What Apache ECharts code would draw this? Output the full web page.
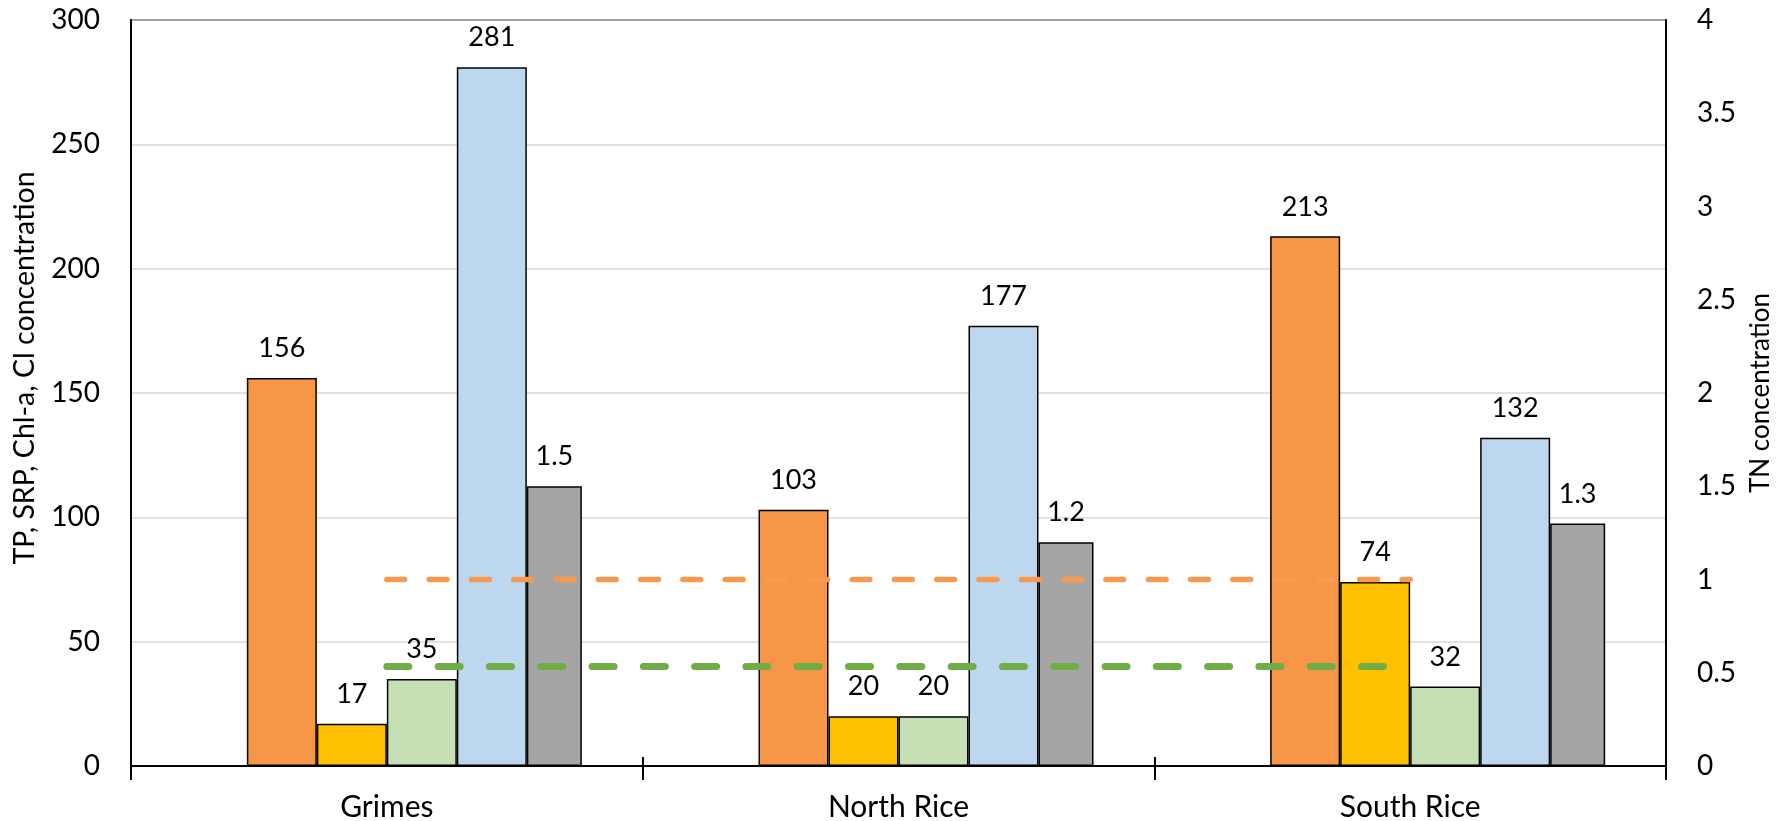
<!DOCTYPE html>
<html>
<head>
<meta charset="utf-8">
<title>Water quality by site</title>
<script src="https://cdn.jsdelivr.net/npm/echarts@6/dist/echarts.min.js"></script>
<style>
  html, body { margin: 0; padding: 0; background: #fff; }
  #chart { width: 1777px; height: 821px; }
</style>
</head>
<body>
<div id="chart"></div>
<script>
// Sites
const categories = ['Grimes', 'North Rice', 'South Rice'];

// Concentrations on the left axis
const tpValues   = [156, 103, 213];
const srpValues  = [17, 20, 74];
const chlaValues = [35, 20, 32];
const clValues   = [281, 177, 132];

// TN on the right axis
const tnValues = [1.5, 1.2, 1.3];

// Reference levels drawn as dashed lines
const tnReference   = [1.0, 1.0, 1.0];   // right axis
const leftReference = [40, 40, 40];      // left axis

// Axis ranges
const leftMax = 300, leftStep = 50;
const rightMax = 4, rightStep = 0.5;

const FONT = 'Lato, "Open Sans", sans-serif';
const BAR_W = '13.68%';
const TN_W = '10.75%';

const labelStyle = {
  show: true,
  position: 'top',
  distance: 16,
  color: '#000',
  fontFamily: FONT,
  fontSize: 27
};

function barSeries(name, data, color, width, yAxisIndex) {
  return {
    name: name,
    type: 'bar',
    xAxisIndex: 0,
    yAxisIndex: yAxisIndex,
    data: data,
    barWidth: width,
    barGap: '0%',
    itemStyle: { color: color, borderColor: '#000', borderWidth: 1.5 },
    label: labelStyle,
    z: 2
  };
}

const chart = echarts.init(document.getElementById('chart'), null, { renderer: 'canvas' });

chart.setOption({
  animation: false,
  backgroundColor: '#fff',
  grid: {
    left: 131, right: 111, top: 20, bottom: 55,
    outerBoundsMode: 'none',
    containLabel: false,
    show: true, borderColor: '#000', borderWidth: 2
  },
  xAxis: [
    {
      type: 'category',
      data: categories,
      position: 'bottom',
      axisLine: { show: true, lineStyle: { color: '#000', width: 2 } },
      axisTick: { show: true, inside: false, length: 14, lineStyle: { color: '#000', width: 2 } },
      axisLabel: { color: '#000', fontFamily: FONT, fontSize: 30, margin: 26 },
      splitLine: { show: false }
    },
    {
      // upper half of the crossing category ticks
      type: 'category',
      data: categories,
      position: 'bottom',
      axisLine: { show: false },
      axisTick: { show: true, inside: true, length: 9, lineStyle: { color: '#000', width: 2 } },
      axisLabel: { show: false },
      splitLine: { show: false }
    }
  ],
  yAxis: [
    {
      type: 'value',
      min: 0, max: leftMax, interval: leftStep,
      name: 'TP, SRP, Chl-a, Cl concentration',
      nameLocation: 'middle',
      nameGap: 92,
      nameTextStyle: { color: '#000', fontFamily: FONT, fontSize: 28.5, padding: [0, 0, 0, 50] },
      axisLine: { show: true, lineStyle: { color: '#000', width: 2 } },
      axisTick: { show: false },
      axisLabel: { color: '#000', fontFamily: FONT, fontSize: 28, margin: 31 },
      splitLine: { show: true, lineStyle: { color: '#d9d9d9', width: 1.5 } }
    },
    {
      type: 'value',
      min: 0, max: rightMax, interval: rightStep,
      position: 'right',
      name: 'TN concentration',
      nameLocation: 'middle',
      nameGap: 82,
      nameRotate: 90,
      nameTextStyle: { color: '#000', fontFamily: FONT, fontSize: 26 },
      axisLine: { show: true, lineStyle: { color: '#000', width: 2 } },
      axisTick: { show: false },
      axisLabel: { color: '#000', fontFamily: FONT, fontSize: 28, margin: 31 },
      splitLine: { show: false }
    }
  ],
  series: [
    {
      // empty slot that balances the narrower TN bar on the other side
      name: 'spacer',
      type: 'bar',
      xAxisIndex: 0,
      yAxisIndex: 0,
      data: ['-', '-', '-'],
      barWidth: TN_W,
      barGap: '0%',
      silent: true,
      itemStyle: { color: 'transparent' }
    },
    barSeries('TP', tpValues, '#F79646', BAR_W, 0),
    barSeries('SRP', srpValues, '#FFC000', BAR_W, 0),
    barSeries('Chl-a', chlaValues, '#C5E0B4', BAR_W, 0),
    barSeries('Cl', clValues, '#BDD7EE', BAR_W, 0),
    barSeries('TN', tnValues, '#A5A5A5', TN_W, 1),
    {
      name: 'TN reference',
      type: 'line',
      xAxisIndex: 0,
      yAxisIndex: 1,
      data: tnReference,
      symbol: 'none',
      silent: true,
      lineStyle: { color: '#F79A4F', width: 5.5, type: [17.8, 24.5], cap: 'round' },
      z: 5
    },
    {
      name: 'Reference',
      type: 'line',
      xAxisIndex: 0,
      yAxisIndex: 0,
      data: leftReference,
      symbol: 'none',
      silent: true,
      lineStyle: { color: '#70AD47', width: 7, type: [22, 29.3], cap: 'round' },
      z: 5
    }
  ]
});
</script>
</body>
</html>
